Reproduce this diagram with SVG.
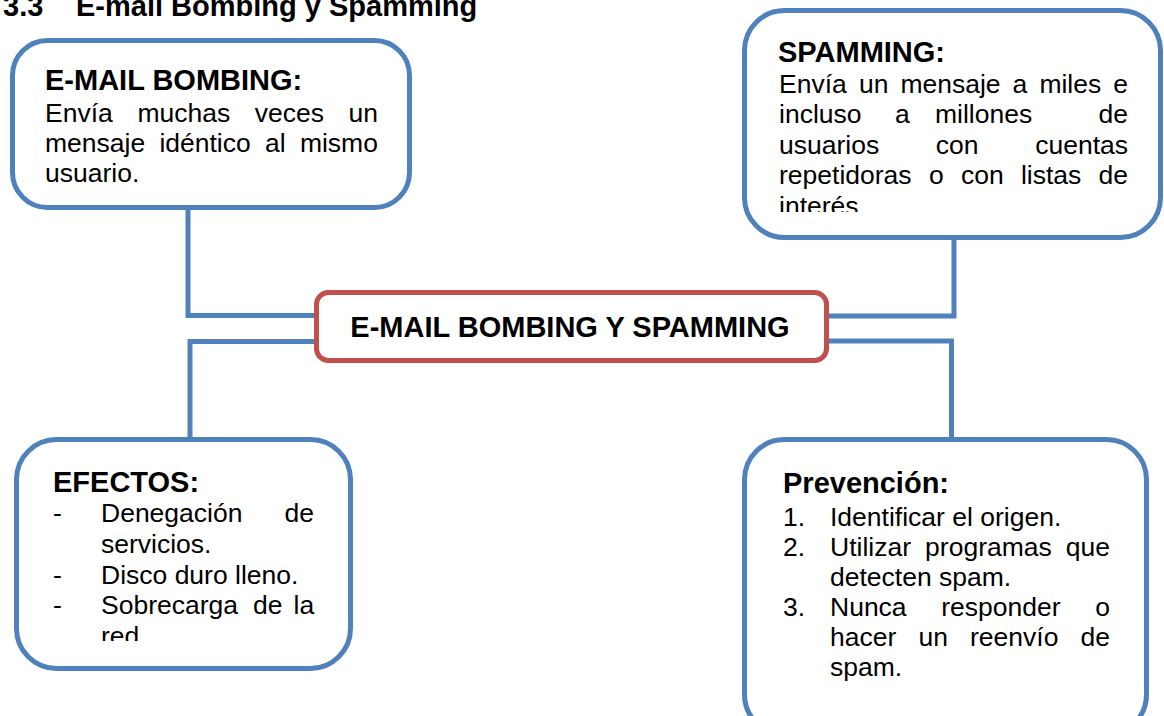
<svg xmlns="http://www.w3.org/2000/svg" width="1164" height="716" viewBox="0 0 1164 716">
<style>
.box{fill:#fff;stroke:#4F81BD;stroke-width:5}
.cbox{fill:#fff;stroke:#C0504D;stroke-width:5}
.con{fill:none;stroke:#4F81BD;stroke-width:5;stroke-linejoin:miter}
.h{font-family:"Liberation Sans",Arial,sans-serif;font-weight:bold;font-size:29px;fill:#000}
.t{font-family:"Liberation Sans",Arial,sans-serif;font-size:26.5px;fill:#000}
</style>
<defs>
<clipPath id="clipSpam"><rect x="744" y="10" width="420" height="202"/></clipPath>
<clipPath id="clipEf"><rect x="16" y="439" width="336" height="202"/></clipPath>
</defs>
<rect width="1164" height="716" fill="#fff"/>
<g id="title">
<text class="h" x="3" y="16">3.3</text>
<text class="h" x="76" y="16">E-mail Bombing y Spamming</text>
</g>
<g id="connectors">
<polyline class="con" points="188,207.5 188,315.5 316,315.5"/>
<polyline class="con" points="316,341.5 190,341.5 190,439.5"/>
<polyline class="con" points="828,316 954,316 954,237.5"/>
<polyline class="con" points="828,341 951.5,341 951.5,439.5"/>
</g>
<g id="node-bombing">
<rect class="box" x="12.5" y="40.5" width="397" height="167" rx="35"/>
<text class="h" x="45" y="90">E-MAIL BOMBING:</text>
<text class="t" y="121.5"><tspan x="45">Envía</tspan><tspan x="137.4">muchas</tspan><tspan x="254.8">veces</tspan><tspan x="348.6">un</tspan></text>
<text class="t" y="152"><tspan x="45">mensaje</tspan><tspan x="159.4">idéntico</tspan><tspan x="265">al</tspan><tspan x="299.9">mismo</tspan></text>
<text class="t" x="45" y="182">usuario.</text>
</g>
<g id="node-spamming">
<rect class="box" x="744.5" y="10.5" width="416" height="227" rx="40"/>
<text class="h" x="778" y="62">SPAMMING:</text>
<g clip-path="url(#clipSpam)">
<text class="t" y="92.5"><tspan x="779">Envía</tspan><tspan x="858.9">un</tspan><tspan x="900.4">mensaje</tspan><tspan x="1012.6">a</tspan><tspan x="1039.4">miles</tspan><tspan x="1113.3">e</tspan></text>
<text class="t" y="123"><tspan x="779">incluso</tspan><tspan x="895">a</tspan><tspan x="935">millones</tspan><tspan x="1098.5">de</tspan></text>
<text class="t" y="153.5"><tspan x="779">usuarios</tspan><tspan x="935.8">con</tspan><tspan x="1035.2">cuentas</tspan></text>
<text class="t" y="184"><tspan x="779">repetidoras</tspan><tspan x="928.9">o</tspan><tspan x="960.9">con</tspan><tspan x="1020.9">listas</tspan><tspan x="1098.6">de</tspan></text>
<text class="t" x="779" y="214.5">interés.</text>
</g>
</g>
<g id="node-center">
<rect class="cbox" x="316.5" y="292.5" width="510" height="68" rx="12"/>
<text class="h" x="570" y="337" text-anchor="middle">E-MAIL BOMBING Y SPAMMING</text>
</g>
<g id="node-efectos">
<rect class="box" x="16.5" y="439.5" width="334" height="229" rx="40"/>
<text class="h" x="53" y="492">EFECTOS:</text>
<g clip-path="url(#clipEf)">
<text class="t" y="522"><tspan x="53">-</tspan><tspan x="101">Denegación</tspan><tspan x="284.5">de</tspan></text>
<text class="t" x="101" y="553">servicios.</text>
<text class="t" y="583.5"><tspan x="53">-</tspan><tspan x="101">Disco duro lleno.</tspan></text>
<text class="t" y="614"><tspan x="53">-</tspan><tspan x="101">Sobrecarga</tspan><tspan x="253">de</tspan><tspan x="293.5">la</tspan></text>
<text class="t" x="101" y="644.5">red.</text>
</g>
</g>
<g id="node-prevencion">
<rect class="box" x="744.5" y="439.5" width="402" height="295" rx="40"/>
<text class="h" x="783" y="493">Prevención:</text>
<text class="t" y="525.5"><tspan x="783">1.</tspan><tspan x="830">Identificar el origen.</tspan></text>
<text class="t" y="555.5"><tspan x="783">2.</tspan><tspan x="830">Utilizar</tspan><tspan x="925.1">programas</tspan><tspan x="1065.8">que</tspan></text>
<text class="t" x="830" y="585.5">detecten spam.</text>
<text class="t" y="615.5"><tspan x="783">3.</tspan><tspan x="830">Nunca</tspan><tspan x="941.3">responder</tspan><tspan x="1095.3">o</tspan></text>
<text class="t" y="646"><tspan x="830">hacer</tspan><tspan x="918.4">un</tspan><tspan x="970">reenvío</tspan><tspan x="1080.5">de</tspan></text>
<text class="t" x="830" y="676">spam.</text>
</g>
</svg>
